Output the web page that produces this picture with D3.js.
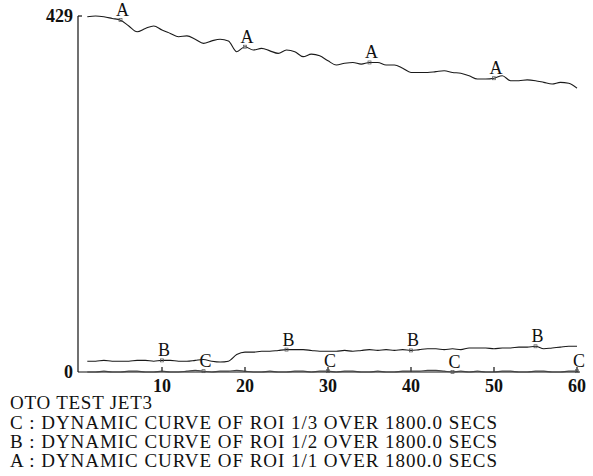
<!DOCTYPE html>
<html>
<head>
<meta charset="utf-8">
<script src="https://cdn.jsdelivr.net/npm/d3@7"></script>
<style>
  body { margin: 0; background: #fff; }
  svg { display: block; }
</style>
</head>
<body>
<svg id="chart"></svg>
<script>
// frames 1..60, 30 s each = 1800 s
var frames = d3.range(1, 61);

// ROI 1/1
var curveA = [428, 429, 428, 426, 424, 417, 410, 414, 417, 412,
              408, 404, 405, 401, 396, 399, 401, 399, 386, 392,
              388, 390, 387, 384, 388, 386, 380, 383, 381, 375,
              370, 372, 373, 371, 373, 373, 370, 370, 366, 361,
              361, 361, 362, 363, 361, 360, 357, 353, 353, 354,
              357, 351, 351, 352, 351, 349, 347, 349, 348, 342];
// ROI 1/2
var curveB = [13, 13, 14, 13, 13, 13, 14, 14, 13, 14,
              14, 13, 13, 14, 15, 13, 12, 13, 21, 24,
              24, 25, 25, 26, 27, 27, 27, 26, 25, 25,
              25, 26, 25, 26, 27, 26, 27, 26, 27, 26,
              27, 28, 28, 27, 28, 27, 29, 29, 29, 28,
              29, 29, 30, 30, 31, 28, 29, 30, 31, 31];
// ROI 1/3
var curveC = [0, 0, 1, 0, 0, 1, 1, 0, 0, 1,
              0, 0, 1, 2, 1, 0, 1, 1, 2, 1,
              0, 0, 1, 0, 0, 1, 1, 0, 1, 1,
              0, 1, 1, 0, 0, 1, 0, 0, 1, 1,
              1, 2, 2, 1, 0, 1, 0, 1, 0, 0,
              1, 1, 0, 0, 1, 1, 0, 0, 1, 1];

var xTicks = [10, 20, 30, 40, 50, 60];
var yTicks = [0, 429];

var series = [
  {name: "A", values: curveA, marks: [5, 20, 35, 50]},
  {name: "B", values: curveB, marks: [10, 25, 40, 55]},
  {name: "C", values: curveC, marks: [15, 30, 45, 60]}
];

var title = "OTO TEST JET3";
var legend = [
  "C : DYNAMIC CURVE OF ROI 1/3 OVER 1800.0 SECS",
  "B : DYNAMIC CURVE OF ROI 1/2 OVER 1800.0 SECS",
  "A : DYNAMIC CURVE OF ROI 1/1 OVER 1800.0 SECS"
];

//canvas info
var width = 593;
var height = 476;
var font = "Liberation Serif";

var svg = d3.select("#chart")
    .attr("width", width)
    .attr("height", height);

var x = d3.scaleLinear().domain([0, 60]).range([79, 577]);
var y = d3.scaleLinear().domain([0, 429]).range([372, 16]);

//small helper so every label gets the same face
function label(sel, size){
  return sel.attr("font-family", font)
    .attr("font-size", size)
    .attr("fill", "#111");
}

//axes (drawn by hand: ticks point inward, no domain caps)
var axis = svg.append("g").attr("stroke", "#111").attr("stroke-width", 1.2);
axis.append("line")
    .attr("x1", x(0) - 1).attr("x2", x(0) - 1)
    .attr("y1", y(429)).attr("y2", y(0));
axis.append("line")
    .attr("x1", x(0) - 1).attr("x2", x(60) + 3)
    .attr("y1", y(0)).attr("y2", y(0));
axis.append("line")
    .attr("x1", x(0) - 1).attr("x2", x(0) + 3)
    .attr("y1", y(429)).attr("y2", y(429));

axis.selectAll(".xt")
    .data(xTicks)
    .enter().append("line")
    .attr("x1", function(d){ return x(d); })
    .attr("x2", function(d){ return x(d); })
    .attr("y1", y(0))
    .attr("y2", y(0) - 5);

label(svg.selectAll(".xl")
    .data(xTicks)
    .enter().append("text"), 18)
    .attr("x", function(d){ return x(d); })
    .attr("y", y(0) + 20)
    .attr("text-anchor", "middle")
    .attr("font-weight", "bold")
    .text(function(d){ return d; });

label(svg.selectAll(".yl")
    .data(yTicks)
    .enter().append("text"), 18)
    .attr("x", x(0) - 6)
    .attr("y", function(d){ return y(d) + 6; })
    .attr("text-anchor", "end")
    .attr("font-weight", "bold")
    .text(function(d){ return d; });

//curves
var line = d3.line()
    .x(function(d){ return x(d[0]); })
    .y(function(d){ return y(d[1]); })
    .curve(d3.curveMonotoneX);

series.forEach(function(s){
  var pts = frames.map(function(f, i){ return [f, s.values[i]]; });

  svg.append("path")
      .datum(pts)
      .attr("fill", "none")
      .attr("stroke", s.name == "C" ? "#444" : "#1a1a1a")
      .attr("stroke-width", 1.1)
      .attr("d", line);

  var lab = svg.append("g");
  s.marks.forEach(function(f){
    var v = s.values[f - 1];
    lab.append("rect")
        .attr("x", x(f) - 1.5).attr("y", y(v) - 1.5)
        .attr("width", 3).attr("height", 3)
        .attr("fill", "none").attr("stroke", "#555").attr("stroke-width", 0.7);
    label(lab.append("text"), 18)
        .attr("x", x(f) + 2)
        .attr("y", y(v) - 4)
        .attr("text-anchor", "middle")
        .text(s.name);
  });
});

//caption lines
label(svg.append("text"), 19)
    .attr("x", 10).attr("y", 409)
    .attr("textLength", 142)
    .attr("lengthAdjust", "spacing")
    .text(title);

label(svg.selectAll(".leg")
    .data(legend)
    .enter().append("text"), 19)
    .attr("x", 10)
    .attr("y", function(d, i){ return 429 + i * 19; })
    .attr("textLength", 487)
    .attr("lengthAdjust", "spacing")
    .text(function(d){ return d; });
</script>
</body>
</html>
